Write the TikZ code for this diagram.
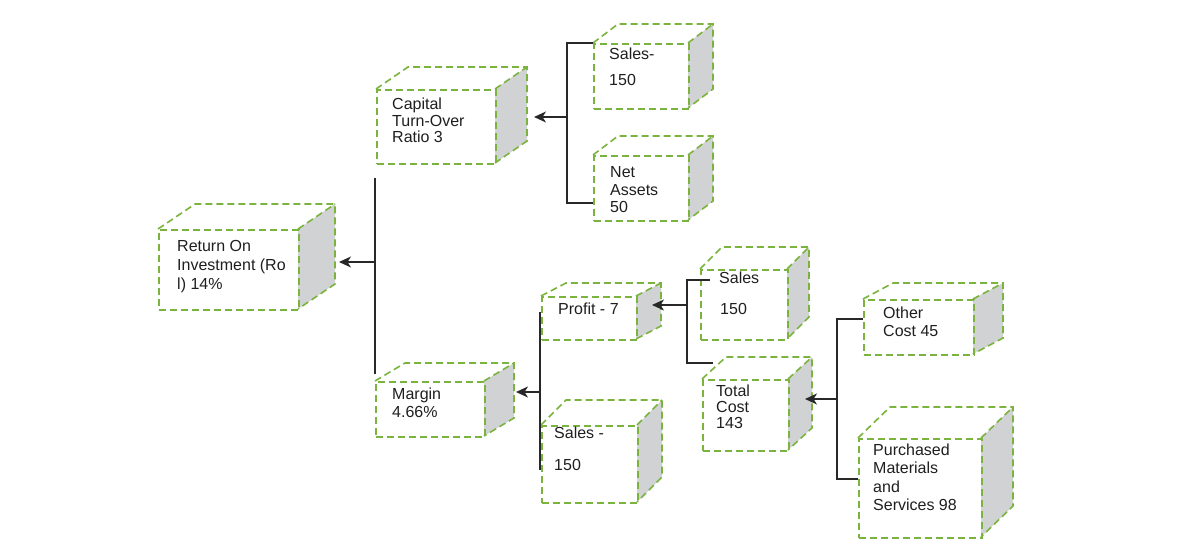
\documentclass[tikz,border=0pt]{standalone}
\usepackage{fontspec}
\setmainfont{Liberation Sans}
\usetikzlibrary{arrows.meta,calc}
\definecolor{cubegreen}{RGB}{122,180,62}
\definecolor{sidegray}{RGB}{209,210,212}
\definecolor{conn}{RGB}{40,40,40}
\tikzset{
  cubeline/.style={draw=cubegreen, line width=1.6pt, dash pattern=on 7pt off 4pt},
  frontbox/.style={cubeline, rectangle, inner sep=0pt, anchor=north west},
  boxtext/.style={anchor=base west, inner sep=0pt, text=black!88},
  connector/.style={draw=conn, line width=1.3pt},
  arrowed/.style={connector, -{Stealth[length=12pt,width=11pt,inset=3.5pt]}},
}
% name, x1, y1, x2, y2, dx, dy
\newcommand\cubebox[7]{%
  \fill[sidegray] (#4,#3) -- (#4+#6,#3-#7) -- (#4+#6,#5-#7) -- (#4,#5) -- cycle;
  \draw[cubeline] (#2,#3) -- (#2+#6,#3-#7) -- (#4+#6,#3-#7) -- (#4+#6,#5-#7) -- (#4,#5);
  \draw[cubeline] (#4,#3) -- (#4+#6,#3-#7);
  \node[frontbox, minimum width={(#4-#2)*1pt}, minimum height={(#5-#3)*1pt}] (#1) at (#2,#3) {};
}
\newcommand\tlines[2]{\fontsize{16}{#1}\selectfont\vtop{#2}}
\begin{document}
\begin{tikzpicture}[x=1pt,y=-1pt]
\useasboundingbox (0,0) rectangle (1204,557);
\fill[white] (0,0) rectangle (1204,557);

% cubes
\cubebox{roi}{158}{229}{298}{309}{37}{25}
\cubebox{cap}{376}{89}{495}{163}{32}{22}
\cubebox{salesa}{593}{43}{688}{108}{25}{19}
\cubebox{netas}{593}{155}{688}{220}{25}{19}
\cubebox{margin}{375}{381}{484}{436}{30}{18}
\cubebox{profit}{541}{296}{636}{339}{25}{13}
\cubebox{salesb}{541}{425}{637}{502}{25}{25}
\cubebox{salesc}{700}{269}{787}{339}{22}{22}
\cubebox{total}{702}{379}{788}{450}{24}{22}
\cubebox{other}{863}{299}{973}{354}{30}{16}
\cubebox{purch}{858}{438}{981}{537}{32}{31}

% texts
\node[boxtext] (roi-t) at (177,251.5) {\tlines{19}{\hbox{Return On}\hbox{Investment (Ro}\hbox{l) 14\%}}};
\node[boxtext] (cap-t) at (392,109.5) {\tlines{16.5}{\hbox{Capital}\hbox{Turn-Over}\hbox{Ratio 3}}};
\node[boxtext] (salesa-t) at (609,59.5) {\tlines{26}{\hbox{Sales-}\hbox{150}}};
\node[boxtext] (netas-t) at (610,177.5) {\tlines{17.5}{\hbox{Net}\hbox{Assets}\hbox{50}}};
\node[boxtext] (margin-t) at (392,399.5) {\tlines{18}{\hbox{Margin}\hbox{4.66\%}}};
\node[boxtext] (profit-t) at (558,314.5) {\tlines{18}{\hbox{Profit - 7}}};
\node[boxtext] (salesb-t) at (554,438.5) {\tlines{32}{\hbox{Sales -}\hbox{150}}};
\node[boxtext] (salesc-t) at (719,283.5) {\tlines{31}{\hbox{Sales}\hbox{\kern1pt 150}}};
\node[boxtext] (total-t) at (716,396.5) {\tlines{16}{\hbox{Total}\hbox{Cost}\hbox{143}}};
\node[boxtext] (other-t) at (883,318.5) {\tlines{18}{\hbox{Other}\hbox{Cost 45}}};
\node[boxtext] (purch-t) at (873,455.5) {\tlines{18.3}{\hbox{Purchased}\hbox{Materials}\hbox{and}\hbox{Services 98}}};

% junction coordinates
\coordinate (j1top) at (375,178);
\coordinate (j1bot) at (375,374);
\coordinate (j1mid) at (375,262);
\coordinate (roiin) at (339,262);

\coordinate (j2top) at (567,43);
\coordinate (j2bot) at (567,203);
\coordinate (j2mid) at (567,117);
\coordinate (capin) at (534,117);

\coordinate (j3top) at (540,312);
\coordinate (j3bot) at (540,470);
\coordinate (j3mid) at (540,392);
\coordinate (marginin) at (516,392);

\coordinate (j4top) at (687,280);
\coordinate (j4bot) at (687,363);
\coordinate (j4mid) at (687,305);
\coordinate (profitin) at (652,305);

\coordinate (j5top) at (837,319);
\coordinate (j5bot) at (837,479);
\coordinate (j5mid) at (837,399);
\coordinate (totalin) at (805,399);

% connectors
\draw[connector] (j1top) -- (j1bot);
\draw[arrowed] (j1mid) -- (roiin);

\draw[connector] (salesa.north west) -- (j2top) -- (j2bot) -- (netas.west |- j2bot);
\draw[arrowed] (j2mid) -- (capin);

\draw[connector] (j3top) -- (j3bot);
\draw[arrowed] (j3mid) -- (marginin);

\draw[connector] (710,280) -- (j4top) -- (j4bot) -- (713,363);
\draw[arrowed] (j4mid) -- (profitin);

\draw[connector] (other.west |- j5top) -- (j5top) -- (j5bot) -- (purch.west |- j5bot);
\draw[arrowed] (j5mid) -- (totalin);
\end{tikzpicture}
\end{document}
